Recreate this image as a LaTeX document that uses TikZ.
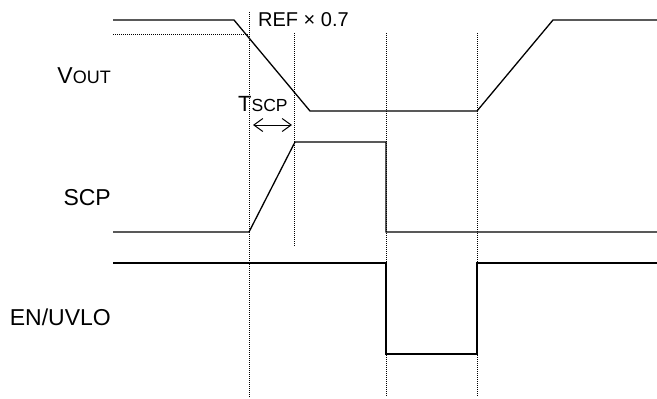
\documentclass[tikz,border=0pt]{standalone}
\usepackage{fontspec}
\setmainfont{Liberation Sans}
\usetikzlibrary{arrows.meta}
\begin{document}
\begin{tikzpicture}[x=1pt,y=-1pt,
  wave/.style={line width=1.3pt,black,line join=miter},
  guide/.style={line width=0.8pt,black,dash pattern=on 1pt off 1pt},
  lbl/.style={inner sep=0pt,anchor=base east,font=\fontsize{23}{23}\selectfont},
  note/.style={inner sep=0pt,anchor=base west}]
\useasboundingbox (0,0) rectangle (657,399);
% guides
\coordinate (g1t) at (249,12);  \coordinate (g1b) at (249,397);
\coordinate (g2t) at (294,33);  \coordinate (g2b) at (294,247);
\coordinate (g3t) at (386,33);  \coordinate (g3b) at (386,397);
\coordinate (g4t) at (477,33);  \coordinate (g4b) at (477,397);
\coordinate (hl) at (113,34);   \coordinate (hr) at (249,34);
\draw[guide] (g1t) -- (g1b);
\draw[guide] (g2t) -- (g2b);
\draw[guide] (g3t) -- (g3b);
\draw[guide] (g4t) -- (g4b);
\draw[guide] (hl) -- (hr);
% VOUT
\draw[wave] (113,20) -- (234,20) -- (310,111) -- (477,111) -- (553,20) -- (657,20);
% SCP
\draw[wave] (113,232) -- (249,232) -- (295,142) -- (386,142) -- (386,232) -- (657,232);
% EN/UVLO
\draw[wave] (113,263) -- (386,263) -- (386,354) -- (477,354) -- (477,263) -- (657,263);
% labels
\node[lbl] (vout) at (111,83) {V{\fontsize{18}{18}\selectfont OUT}};
\node[lbl] (scp) at (111,205) {SCP};
\node[lbl] (en) at (111,325) {EN/UVLO};
\node[note,font=\fontsize{20}{20}\selectfont] (ref) at (258,26) {REF × 0.7};
\node[note] (tscp) at (238,111.5) {\fontsize{22}{22}\selectfont T\fontsize{17.5}{17.5}\selectfont SCP};
% Tscp arrow
\coordinate (al) at (253,125);
\coordinate (ar) at (292,125);
\draw[line width=1pt,{Straight Barb[length=9pt,width=13pt]}-{Straight Barb[length=9pt,width=13pt]}] (al) -- (ar);
\end{tikzpicture}
\end{document}
